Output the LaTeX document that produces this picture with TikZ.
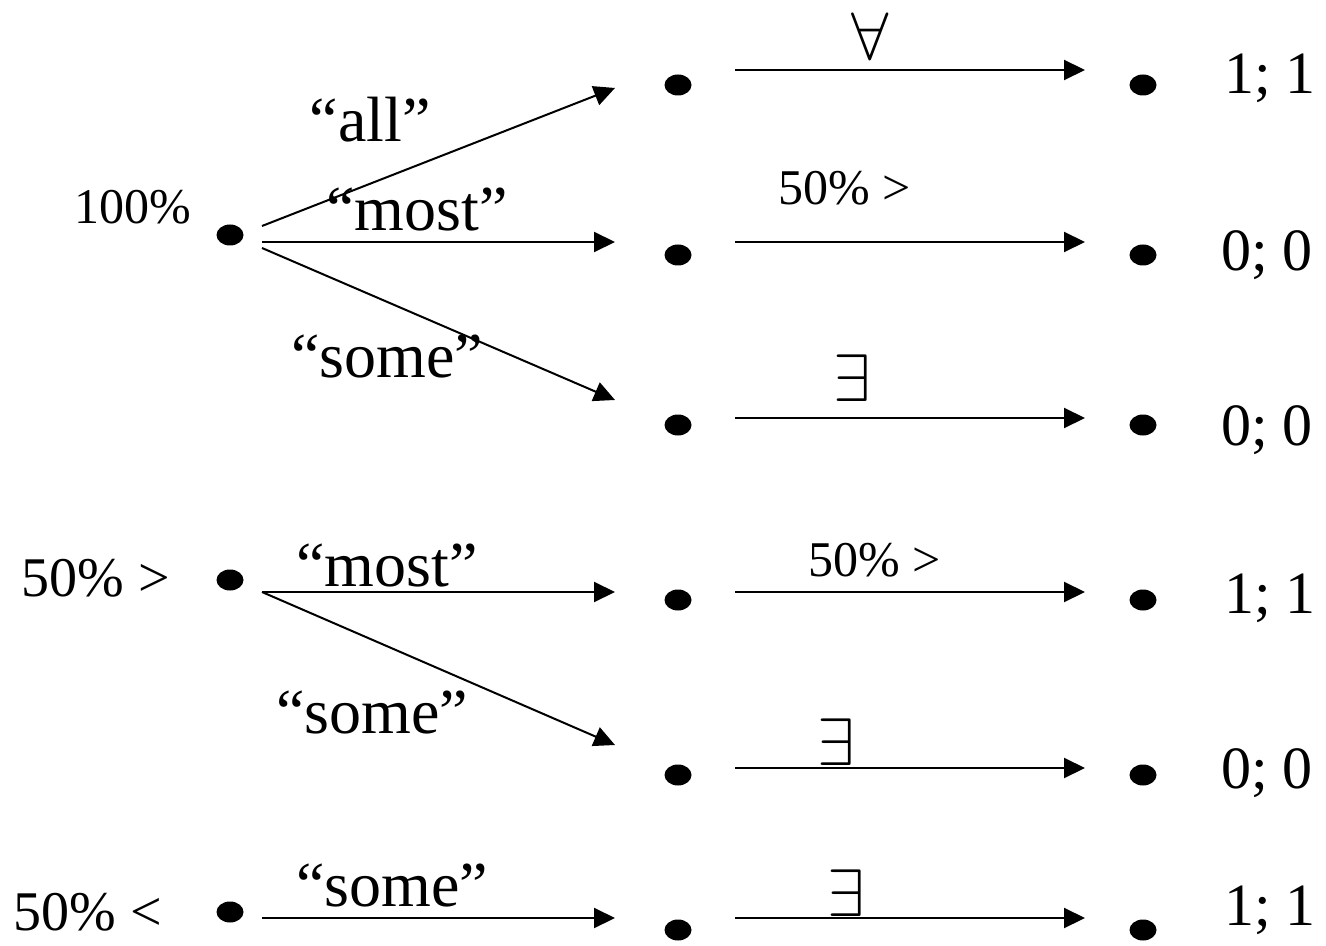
\documentclass[tikz,border=0pt]{standalone}
\usepackage{fontspec}
\setmainfont{Liberation Serif}
\usetikzlibrary{arrows.meta,shapes.geometric,calc}
\begin{document}
\begin{tikzpicture}[x=0.5pt,y=-0.5pt,
  dot/.style={ellipse,fill=black,minimum width=13.5pt,minimum height=10.5pt,inner sep=0pt},
  arr/.style={line width=1pt,-{Triangle[length=10.5pt,width=10pt]}},
  word/.style={font=\fontsize{32}{36}\selectfont,inner sep=0pt},
  side/.style={font=\fontsize{28}{32}\selectfont,inner sep=0pt},
  res/.style={font=\fontsize{30}{34}\selectfont,inner sep=0pt},
  pct/.style={font=\fontsize{25}{30}\selectfont,inner sep=0pt},
  quant/.style={font=\fontsize{24.88}{30}\selectfont,inner sep=0pt,scale=1.35}]
\useasboundingbox (0,0) rectangle (1326,946);
% dots
\node[dot] (L1) at (230,235) {};
\node[dot] (L2) at (230,580) {};
\node[dot] (L3) at (230,912) {};
\node[dot] (M1) at (678,85) {};
\node[dot] (M2) at (678,255) {};
\node[dot] (M3) at (678,425) {};
\node[dot] (M4) at (678,600) {};
\node[dot] (M5) at (678,775) {};
\node[dot] (M6) at (678,930) {};
\node[dot] (R1) at (1143,85) {};
\node[dot] (R2) at (1143,255) {};
\node[dot] (R3) at (1143,425) {};
\node[dot] (R4) at (1143,600) {};
\node[dot] (R5) at (1143,775) {};
\node[dot] (R6) at (1143,930) {};
% arrows
\draw[arr] ([shift={(32,-9)}]L1.center) -- ([shift={(-63,3)}]M1.center);
\draw[arr] ([shift={(32,7)}]L1.center) -- ([shift={(-63,-13)}]M2.center);
\draw[arr] ([shift={(32,13)}]L1.center) -- ([shift={(-63,-25)}]M3.center);
\draw[arr] ([shift={(57,-15)}]M1.center) -- ([shift={(-58,-15)}]R1.center);
\draw[arr] ([shift={(57,-13)}]M2.center) -- ([shift={(-58,-13)}]R2.center);
\draw[arr] ([shift={(57,-7)}]M3.center) -- ([shift={(-58,-7)}]R3.center);
\draw[arr] ([shift={(32,12)}]L2.center) -- ([shift={(-63,-8)}]M4.center);
\draw[arr] ([shift={(32,12)}]L2.center) -- ([shift={(-63,-30)}]M5.center);
\draw[arr] ([shift={(57,-8)}]M4.center) -- ([shift={(-58,-8)}]R4.center);
\draw[arr] ([shift={(57,-7)}]M5.center) -- ([shift={(-58,-7)}]R5.center);
\draw[arr] ([shift={(32,6)}]L3.center) -- ([shift={(-63,-12)}]M6.center);
\draw[arr] ([shift={(57,-12)}]M6.center) -- ([shift={(-58,-12)}]R6.center);
% left labels
\node[pct] (t100) at (133,207) {100\%};
\node[side] (t50a) at (96,578) {50\% >};
\node[side] (t50b) at (88,912) {50\% <};
% edge labels
\node[word] (eall) at (370,120) {“all”};
\node[word] (emost1) at (417,210) {“most”};
\node[word] (esome1) at (387,357) {“some”};
\node[word] (emost2) at (387,565) {“most”};
\node[word] (esome2) at (372,712) {“some”};
\node[word] (esome3) at (392,885) {“some”};
\node[quant] (qall) at (870,36) {$\forall$};
\node[pct] (q50a) at (845,188) {50\% >};
\node[quant] (qex1) at (852,378) {$\exists$};
\node[pct] (q50b) at (875,560) {50\% >};
\node[quant] (qex2) at (836,742) {$\exists$};
\node[quant] (qex3) at (846,893) {$\exists$};
% results
\node[res] (r1) at (1270,78) {1; 1};
\node[res] (r2) at (1267,255) {0; 0};
\node[res] (r3) at (1267,430) {0; 0};
\node[res] (r4) at (1270,598) {1; 1};
\node[res] (r5) at (1267,773) {0; 0};
\node[res] (r6) at (1270,910) {1; 1};
\end{tikzpicture}
\end{document}
